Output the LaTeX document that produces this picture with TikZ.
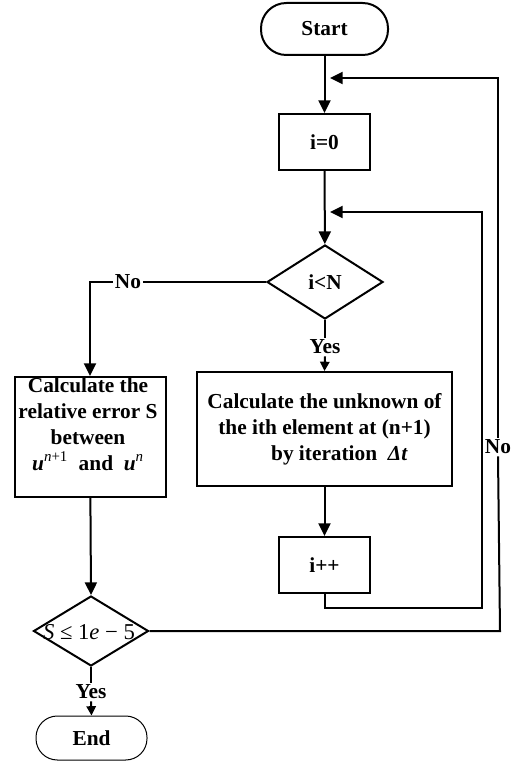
\documentclass[tikz,border=0pt]{standalone}
\usepackage{fontspec}
\setmainfont{Liberation Serif}
\usetikzlibrary{arrows.meta,shapes.geometric}
\begin{document}
\begin{tikzpicture}[x=0.75pt,y=-0.75pt,line width=1.5pt,
  txt/.style={font=\fontsize{16}{19.5}\selectfont\bfseries},
  box/.style={draw,rectangle,inner sep=0pt,txt},
  term/.style={draw,rectangle,inner sep=0pt,txt},
  dec/.style={draw,diamond,inner sep=0pt,txt},
  lab/.style={inner sep=1pt,txt},
  arr/.style={-{Triangle[length=9.5pt,width=9pt]}},
  sarr/.style={-{Triangle[length=7pt,width=7pt]}}]
\useasboundingbox (0,0) rectangle (514,763);
% nodes
\node[term,rounded corners=19pt,minimum width=95.25pt,minimum height=39pt] (start) at (324.5,29) {Start};
\node[box,minimum width=68.25pt,minimum height=42pt] (i0) at (324.5,142) {i=0};
\node[dec,minimum width=87pt,minimum height=55.5pt] (d1) at (325,282) {i<N};
\node[lab] (yes1) at (325,347) {Yes};
\node[box,minimum width=191.25pt,minimum height=85.5pt,align=center] (calc) at (324.5,429)
  {Calculate the unknown of\\the ith element at (n+1)\\\hspace*{22pt}by iteration~~{\itshape Δt}};
\node[box,minimum width=68.25pt,minimum height=42pt] (ipp) at (324.5,565) {i++};
\node[lab] (no1) at (128,282) {No};
\node[box,minimum width=113.25pt,minimum height=90pt] (lbox) at (90,437) {};
\node[txt,align=center,inner sep=0pt] (ltext) at (88,424)
  {Calculate the\\relative error S\\between\\{\itshape u}\textsuperscript{\mdseries\itshape n\upshape+1}~~and~~{\itshape u}\textsuperscript{\mdseries\itshape n}};
\node[dec,minimum width=86.25pt,minimum height=52.5pt] (d2) at (91,631) {};
\node[font=\fontsize{17}{20}\selectfont,inner sep=0pt] (d2t) at (89,632) {{\itshape S}~≤~1{\itshape e}~−~5};
\node[lab] (yes2) at (91,692) {Yes};
\node[term,line width=0.75pt,rounded corners=16pt,minimum width=83.25pt,minimum height=33pt] (end) at (91.5,738) {End};
\node[lab] (no2) at (498,447) {No};
% helper coordinates
\coordinate (t1) at (330,78);
\coordinate (t2) at (330,212);
\coordinate (c1) at (482,608);
\coordinate (c2) at (500,631);
% connectors
\draw[arr] (start) -- (i0);
\draw[arr] (i0) -- (d1);
\draw (d1.south) -- (yes1.north);
\draw[sarr] (yes1.south) -- (calc.north);
\draw[arr] (calc) -- (ipp);
\draw (d1.west) -- (no1.east);
\draw[arr] (no1.west) -| (lbox.north);
\draw[arr] (lbox) -- (d2.north);
\draw (d2.south) -- (yes2.north);
\draw[sarr] (yes2.south) -- (end.north);
\draw[arr] (ipp.south) |- (c1) |- (t2);
\draw (d2.east) -- (c2) -- (no2.south);
\draw[arr] (no2.north) |- (t1);
\end{tikzpicture}
\end{document}
